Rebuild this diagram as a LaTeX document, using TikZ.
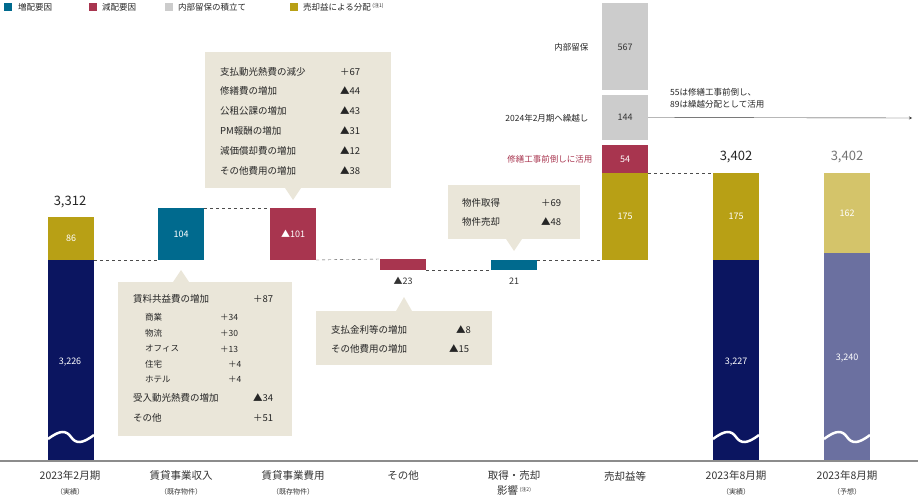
\documentclass[tikz,border=0pt]{standalone}
\usepackage{fontspec}
\setmainfont{Noto Sans CJK JP}
\begin{document}
\begin{tikzpicture}[x=1pt,y=-1pt,
  bar/.style={inner sep=0,outer sep=0,minimum width=46pt,anchor=north west},
  val/.style={text=white,font=\fontsize{9}{10}\selectfont},
  cat/.style={font=\fontsize{10.5}{12}\selectfont,text=black!80},
  sub/.style={font=\fontsize{7}{8}\selectfont,text=black!80},
  bx/.style={fill=boxc},
  tx/.style={font=\fontsize{9.5}{11}\selectfont,anchor=west,inner sep=0,text=black!85},
  stx/.style={font=\fontsize{8.5}{10}\selectfont,anchor=west,inner sep=0,text=black!85},
  dl/.style={dashed,black!70,thin}]
\definecolor{navy}{HTML}{0B1560}
\definecolor{blu}{HTML}{006A8E}
\definecolor{rd}{HTML}{A8354F}
\definecolor{gr}{HTML}{CCCCCC}
\definecolor{yl}{HTML}{B8A015}
\definecolor{lyl}{HTML}{D4C46A}
\definecolor{slate}{HTML}{6B70A0}
\definecolor{boxc}{HTML}{EAE6D9}
\useasboundingbox (0,0) rectangle (918,500);
% legend
\fill[blu] (4,3) rectangle (12,11); \node[stx] (l1) at (18,7) {増配要因};
\fill[rd] (89,3) rectangle (97,11); \node[stx] (l2) at (102,7) {減配要因};
\fill[gr] (165,3) rectangle (173,11); \node[stx] (l3) at (178,7) {内部留保の積立て};
\fill[yl] (290,3) rectangle (298,11); \node[stx] (l4) at (303,7) {売却益による分配\,\raisebox{3pt}{\fontsize{5}{6}\selectfont (注1)}};
% bars
\node[bar,fill=navy,minimum height=200pt] (b1n) at (48,260) {};
\node[bar,fill=yl,minimum height=43pt] (b1y) at (48,217) {};
\node[bar,fill=blu,minimum height=52pt] (b2) at (158,208) {};
\node[bar,fill=rd,minimum height=52pt] (b3) at (270,208) {};
\node[bar,fill=rd,minimum height=11pt] (b4) at (380,259) {};
\node[bar,fill=blu,minimum height=10pt] (b5) at (491,260) {};
\node[bar,fill=yl,minimum height=87pt] (b6y) at (602,173) {};
\node[bar,fill=rd,minimum height=28pt] (b6r) at (602,145) {};
\node[bar,fill=gr,minimum height=45pt] (b6g) at (602,95) {};
\node[bar,fill=gr,minimum height=87pt] (b6t) at (602,3) {};
\node[bar,fill=navy,minimum height=200pt] (b7n) at (713,260) {};
\node[bar,fill=yl,minimum height=87pt] (b7y) at (713,173) {};
\node[bar,fill=slate,minimum height=207pt] (b8n) at (824,253) {};
\node[bar,fill=lyl,minimum height=80pt] (b8y) at (824,173) {};
% waves
\foreach \x in {48,713,824}{
 \draw[white,line width=2.5pt] (\x,439) .. controls (\x+12,430) and (\x+18,430) .. (\x+23,437) .. controls (\x+28,444) and (\x+34,444) .. (\x+46,435);}
% axis
\draw[black!45,line width=1.2pt] (0,461) -- (918,461);
% values
\node[val] at (b1y.center) {86};
\node[val] at (70,362) {3,226};
\node[val] at (b2.center) {104};
\node[val] at (b3.center) {▲101};
\node[val] at (b6y.center) {175};
\node[val] at (b6r.center) {54};
\node[val,text=black!80] at (b6g.center) {144};
\node[val,text=black!80] at (625,47) {567};
\node[val] at (b7y.center) {175};
\node[val] at (736,362) {3,227};
\node[val] at (b8y.center) {162};
\node[val] at (847,358) {3,240};
\node[font=\fontsize{9}{10}\selectfont,text=black!80] (v4) at (403,281) {▲23};
\node[font=\fontsize{9}{10}\selectfont,text=black!80] (v5) at (514,281) {21};
\node[font=\fontsize{13}{14}\selectfont,text=black!85] (t1) at (70,202) {3,312};
\node[font=\fontsize{13}{14}\selectfont,text=black!85] (t7) at (736,157) {3,402};
\node[font=\fontsize{13}{14}\selectfont,text=black!55] (t8) at (847,157) {3,402};
% dashed connectors
\draw[dl] (b1y.south east) -- (b2.south west);
\draw[dl] (b2.north east) -- (b3.north west);
\draw[dl] (b3.south east) -- (b4.north west);
\draw[dl] (b4.south east) -- (b5.south west);
\draw[dl] (b5.north east) -- (b6y.south west);
\draw[dl] (b6y.north east) -- (b7y.north west);
% side labels
\node[font=\fontsize{8.5}{10}\selectfont,anchor=east,text=black!85] (s1) at (592,47) {内部留保};
\node[font=\fontsize{8.5}{10}\selectfont,anchor=east,text=black!85] (s2) at (592,118) {2024年2月期へ繰越し};
\node[font=\fontsize{8.5}{10}\selectfont,anchor=east,text=rd] (s3) at (596,159) {修繕工事前倒しに活用};
\coordinate (ae) at (912,118);
\draw[-stealth,black!80] (b6g.east) -- (ae);
\node[stx] (n1) at (670,92) {55は修繕工事前倒し、};
\node[stx] (n2) at (670,104) {89は繰越分配として活用};
% callout 1
\fill[boxc] (205,52) rectangle (391,188);
\fill[boxc] (285,188) -- (293,200) -- (301,188) -- cycle;
\node[tx] at (220,72) {支払動光熱費の減少}; \node[tx] at (340,72) {＋67};
\node[tx] at (220,91) {修繕費の増加}; \node[tx] at (340,91) {▲44};
\node[tx] at (220,111) {公租公課の増加}; \node[tx] at (340,111) {▲43};
\node[tx] at (220,131) {PM報酬の増加}; \node[tx] at (340,131) {▲31};
\node[tx] at (220,151) {減価償却費の増加}; \node[tx] at (340,151) {▲12};
\node[tx] at (220,171) {その他費用の増加}; \node[tx] at (340,171) {▲38};
% callout 2
\fill[boxc] (118,282) rectangle (292,436);
\fill[boxc] (173,282) -- (181,270) -- (189,282) -- cycle;
\node[tx] at (133,299) {賃料共益費の増加}; \node[tx] at (253,299) {＋87};
\node[stx] at (145,317) {商業}; \node[stx] at (220,317) {＋34};
\node[stx] at (145,333) {物流}; \node[stx] at (220,333) {＋30};
\node[stx] at (145,349) {オフィス}; \node[stx] at (220,349) {＋13};
\node[stx] at (145,364) {住宅}; \node[stx] at (228,364) {＋4};
\node[stx] at (145,379) {ホテル}; \node[stx] at (228,379) {＋4};
\node[tx] at (133,398) {受入動光熱費の増加}; \node[tx] at (253,398) {▲34};
\node[tx] at (133,418) {その他}; \node[tx] at (253,418) {＋51};
% callout 3
\fill[boxc] (316,311) rectangle (492,365);
\fill[boxc] (396,311) -- (404,297) -- (412,311) -- cycle;
\node[tx] at (331,330) {支払金利等の増加}; \node[tx] at (456,330) {▲8};
\node[tx] at (331,349) {その他費用の増加}; \node[tx] at (449,349) {▲15};
% callout 4
\fill[boxc] (448,185) rectangle (580,239);
\fill[boxc] (506,239) -- (514,251) -- (522,239) -- cycle;
\node[tx] at (462,203) {物件取得}; \node[tx] at (541,203) {＋69};
\node[tx] at (462,222) {物件売却}; \node[tx] at (541,222) {▲48};
% categories
\node[cat] (c1) at (70,476) {2023年2月期}; \node[sub] at (70,492) {（実績）};
\node[cat] (c2) at (181,476) {賃貸事業収入}; \node[sub] at (181,492) {（既存物件）};
\node[cat] (c3) at (293,476) {賃貸事業費用}; \node[sub] at (293,492) {（既存物件）};
\node[cat] (c4) at (403,476) {その他};
\node[cat] (c5) at (514,476) {取得・売却};
\node[cat] (c5b) at (514,491) {影響\,\raisebox{3pt}{\fontsize{5}{6}\selectfont (注2)}};
\node[cat] (c6) at (625,476) {売却益等};
\node[cat] (c7) at (736,476) {2023年8月期}; \node[sub] at (736,492) {（実績）};
\node[cat] (c8) at (847,476) {2023年8月期}; \node[sub] at (847,492) {（予想）};
\end{tikzpicture}
\end{document}
